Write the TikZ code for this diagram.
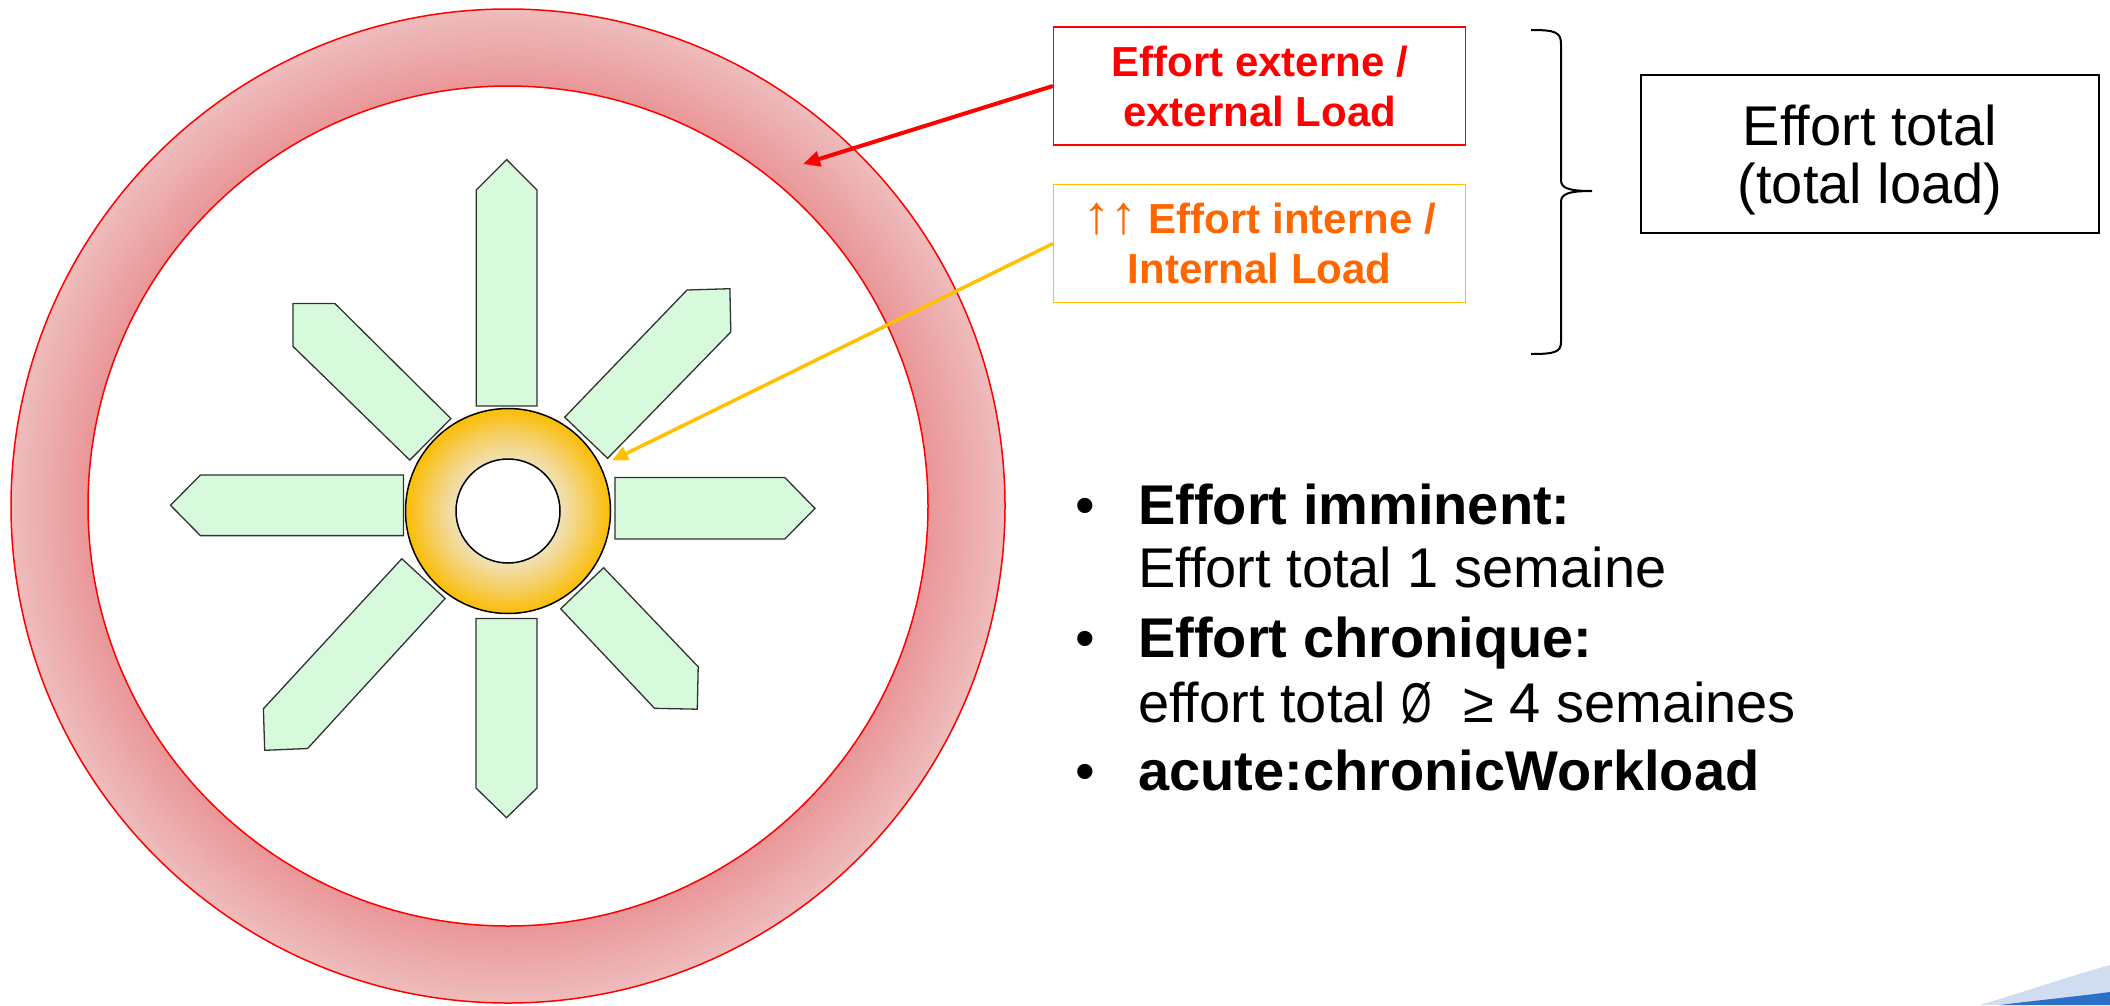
\documentclass[tikz,border=0pt]{standalone}
\usepackage{fontspec}
\usepackage{graphicx}
\setmainfont{Liberation Sans}
\usetikzlibrary{arrows.meta}
\definecolor{ringlight}{RGB}{238,188,188}
\definecolor{ringdark}{RGB}{234,150,152}
\definecolor{spokefill}{RGB}{214,250,219}
\definecolor{spokeline}{RGB}{50,50,50}
\definecolor{goldc}{RGB}{255,192,0}
\definecolor{orangetext}{RGB}{255,102,0}
\definecolor{ringgold}{RGB}{250,190,12}
\definecolor{ringmid}{RGB}{245,208,105}
\definecolor{ringpale}{RGB}{240,224,182}
\definecolor{swooshlight}{RGB}{208,221,241}
\definecolor{swooshdark}{RGB}{45,112,200}
\pgfdeclareradialshading{bigringshade}{\pgfpoint{0bp}{0bp}}{color(0bp)=(ringdark); color(21.1bp)=(ringdark); color(25bp)=(ringlight); color(50bp)=(ringlight)}
\pgfdeclareradialshading{smallringshade}{\pgfpoint{0bp}{0bp}}{color(0bp)=(ringpale); color(12.7bp)=(ringpale); color(18.5bp)=(ringmid); color(24.5bp)=(ringgold); color(50bp)=(ringgold)}
\tikzset{
  spoke/.style={fill=spokefill, draw=spokeline, line width=1.3pt, line join=miter},
  loadbox/.style={line width=1.5pt, fill=white, align=center, inner sep=0pt,
    minimum width=412pt, minimum height=118pt,
    font=\bfseries\fontsize{42pt}{50pt}\selectfont},
  extbox/.style={loadbox, draw=red, text=red},
  intbox/.style={loadbox, draw=goldc, text=orangetext},
  totalbox/.style={draw=black, line width=1.2pt, inner sep=0pt,
    minimum width=458pt, minimum height=158pt},
  totaltext/.style={align=center, inner sep=0pt, font=\fontsize{56pt}{58pt}\selectfont},
  bultext/.style={anchor=base west, inner sep=0pt, font=\fontsize{56pt}{60pt}\selectfont},
  bulmark/.style={anchor=base, inner sep=0pt, font=\fontsize{56pt}{60pt}\selectfont},
}
\begin{document}
\begin{tikzpicture}[x=1pt, y=-1pt]
\useasboundingbox (0,0) rectangle (2110,1005);
\fill[white] (0,0) rectangle (2110,1005);

% big ring (external load)
\coordinate (bigc) at (508,506);
\shade[shading=bigringshade, even odd rule] (bigc) circle[radius=497pt] (bigc) circle[radius=420pt];
\draw[red, line width=1.5pt] (bigc) circle[radius=497pt];
\draw[red, line width=1.5pt] (bigc) circle[radius=420pt];

% spokes
\draw[spoke] (476.3,406) -- (537,406) -- (537,190) -- (506.7,159.6) -- (476.3,190) -- cycle;
\draw[spoke] (476,618.5) -- (537,618.5) -- (537,788) -- (506.5,817.7) -- (476,788) -- cycle;
\draw[spoke] (615,477.5) -- (784.8,477.5) -- (815,508.4) -- (784.8,539) -- (615,539) -- cycle;
\draw[spoke] (403.5,475) -- (200.4,475) -- (170.5,505.3) -- (200.4,535.6) -- (403.5,535.6) -- cycle;
\draw[spoke] (450.9,418.6) -- (334.8,303.4) -- (292.9,303.4) -- (292.9,346.3) -- (409.8,460.1) -- cycle;
\draw[spoke] (564.7,417.2) -- (687,290) -- (729.9,288.7) -- (730.8,332) -- (607.6,458.3) -- cycle;
\draw[spoke] (603.6,567.7) -- (698.2,666.8) -- (697.3,709.2) -- (654.5,708.3) -- (560.7,608.75) -- cycle;
\draw[spoke] (401.8,558.75) -- (263.4,708.75) -- (264.7,750.3) -- (307.6,748.5) -- (445.1,598.5) -- cycle;

% small ring (internal load)
\coordinate (smallc) at (508,511);
\shade[shading=smallringshade, even odd rule] (smallc) circle[radius=102.5pt] (smallc) circle[radius=52pt];
\draw[black, line width=1.5pt] (smallc) circle[radius=102.5pt];
\draw[black, line width=1.5pt, fill=white] (smallc) circle[radius=52pt];

% label boxes
\node[extbox] (ext) at (1259.6,86) {Effort externe /\\external Load};
\node[intbox] (int) at (1259.6,243.6) {{\mdseries\fontsize{54pt}{50pt}\selectfont ↑↑} Effort interne /\\Internal Load};

\coordinate (exttip) at (803,164);
\coordinate (inttip) at (612,460.5);
\draw[red, line width=4pt, -{Triangle[length=17pt,width=15pt]}] (ext.west) -- (exttip);
\draw[goldc, line width=3.5pt, -{Triangle[length=16pt,width=14pt]}] (int.west) -- (inttip);

% brace
\draw[black, line width=2pt] (1531,30) .. controls (1555,30) and (1561,32) .. (1561,44) -- (1561,180)
  .. controls (1561,188) and (1568,191) .. (1592,191)
  .. controls (1568,191) and (1561,194) .. (1561,202) -- (1561,342)
  .. controls (1561,352) and (1555,354) .. (1531,354);

% total box
\node[totalbox] (tot) at (1870,154) {};
\node[totaltext] (tott) at (1870,160) {Effort total\\(total load)};

% bullets
\node[bulmark] (m1) at (1085,524) {•};
\node[bultext] (b1) at (1138,524) {\bfseries Effort imminent:};
\node[bultext] (b2) at (1138,587) {Effort total 1 semaine};
\node[bulmark] (m3) at (1085,657) {•};
\node[bultext] (b3) at (1138,657) {\bfseries Effort chronique:};
\node[bultext] (b4) at (1138,722) {effort total \scalebox{0.7}[1]{Ø}\ \ ≥ 4 semaines};
\node[bulmark] (m5) at (1085,790) {•};
\node[bultext] (b5) at (1138,790) {\bfseries acute:chronicWorkload};

% corner swoosh
\fill[swooshlight] (1980,1005) .. controls (2030,990) and (2070,976) .. (2110,965) -- (2110,1005) -- cycle;
\fill[swooshdark] (2000,1005) .. controls (2040,1000) and (2080,996) .. (2110,992) -- (2110,1005) -- cycle;
\end{tikzpicture}
\end{document}
